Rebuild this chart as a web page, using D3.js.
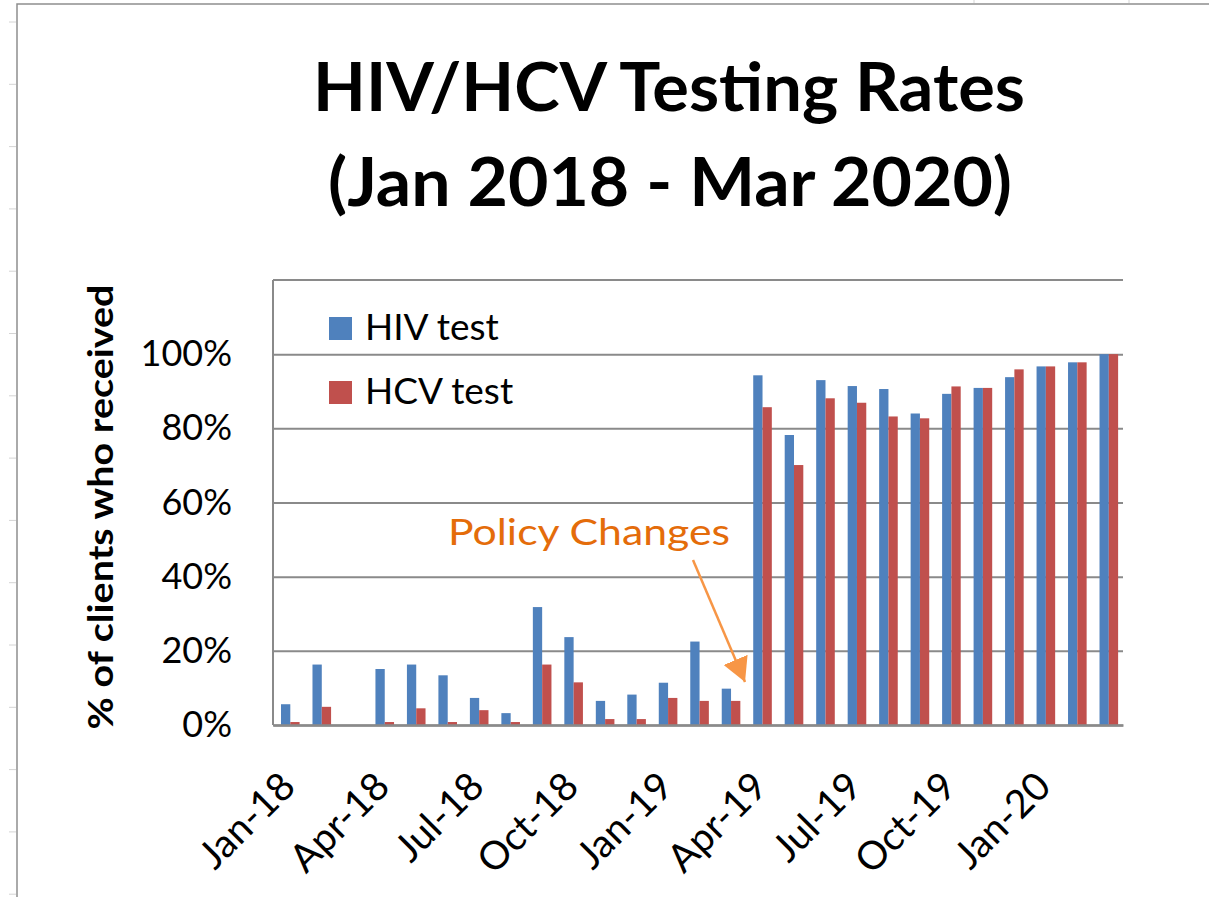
<!DOCTYPE html>
<html lang="en">
<head>
    <meta charset="UTF-8">
    <title>HIV/HCV Testing Rates</title>
    <script src="https://cdn.jsdelivr.net/npm/d3@7/dist/d3.min.js"></script>
    <style>
        body { margin: 0; background: #fff; }
        text { font-family: Lato, "Open Sans", sans-serif; }
    </style>
</head>
<body>
    <div id="chart"></div>
    <script>
        const months = ["Jan-18", "Feb-18", "Mar-18", "Apr-18", "May-18", "Jun-18", "Jul-18", "Aug-18", "Sep-18",
            "Oct-18", "Nov-18", "Dec-18", "Jan-19", "Feb-19", "Mar-19", "Apr-19", "May-19", "Jun-19",
            "Jul-19", "Aug-19", "Sep-19", "Oct-19", "Nov-19", "Dec-19", "Jan-20", "Feb-20", "Mar-20"]
        const hivTest = [5.6, 16.3, 0, 15.1, 16.3, 13.4, 7.3, 3.2, 31.8, 23.7, 6.5, 8.2, 11.4, 22.5, 9.8,
            94.3, 78.2, 93.0, 91.4, 90.6, 84.0, 89.3, 90.9, 93.8, 96.7, 97.8, 100]
        const hcvTest = [0.8, 4.9, 0, 0.8, 4.5, 0.8, 4.0, 0.8, 16.3, 11.5, 1.6, 1.6, 7.3, 6.5, 6.5,
            85.7, 70.1, 88.1, 86.9, 83.2, 82.7, 91.3, 90.9, 95.9, 96.7, 97.8, 100]
        const seriesNames = ["HIV test", "HCV test"]
        const yTicks = [0, 20, 40, 60, 80, 100]
        const xTickLabels = ["Jan-18", "Apr-18", "Jul-18", "Oct-18", "Jan-19", "Apr-19", "Jul-19", "Oct-19", "Jan-20"]

        const width = 1209
        const height = 897
        const plot = {left: 273, right: 1123, top: 280, bottom: 725}
        const colors = {"HIV test": "#4F81BD", "HCV test": "#C0504D"}

        const rows = months.map((m, i) => ({month: m, "HIV test": hivTest[i], "HCV test": hcvTest[i]}))

        const svg = d3.select("#chart").append("svg")
            .attr("width", width)
            .attr("height", height)

        // sheet frame behind the chart
        svg.append("path")
            .attr("d", `M17,${height} V4 H${width}`)
            .attr("fill", "none")
            .attr("stroke", "#8e8e8e")
            .attr("stroke-width", 1.5)
        svg.selectAll(".rowtick").data(d3.range(22, height, 62.3))
            .enter().append("line")
            .attr("x1", 9).attr("x2", 16)
            .attr("y1", d => d).attr("y2", d => d)
            .attr("stroke", "#d4d4d4")
        svg.selectAll(".coltick").data([974, 1129])
            .enter().append("line")
            .attr("x1", d => d).attr("x2", d => d)
            .attr("y1", 0).attr("y2", 3)
            .attr("stroke", "#d4d4d4")

        let x = d3.scaleBand().domain(months).range([plot.left, plot.right])
        let x1 = d3.scaleBand().domain(seriesNames).range([8, 26.6])
        let y = d3.scaleLinear().domain([0, 120]).range([plot.bottom, plot.top])

        // gridlines + tick labels
        const yAxis = svg.append("g")
            .attr("transform", `translate(${plot.left},0)`)
            .call(d3.axisLeft(y).tickValues(yTicks)
                .tickSize(-(plot.right - plot.left))
                .tickPadding(41)
                .tickFormat(d => d + "%"))
        yAxis.select(".domain").remove()
        yAxis.selectAll(".tick line")
            .attr("stroke", "#8a8a8a")
            .attr("stroke-width", 2)
        yAxis.selectAll(".tick text")
            .attr("font-size", 36)
            .attr("fill", "#000")

        // top border of plot area and left axis
        svg.append("line")
            .attr("x1", plot.left).attr("x2", plot.right)
            .attr("y1", y(120)).attr("y2", y(120))
            .attr("stroke", "#8a8a8a").attr("stroke-width", 2)
        svg.append("line")
            .attr("x1", plot.left).attr("x2", plot.left)
            .attr("y1", y(120)).attr("y2", y(0))
            .attr("stroke", "#8a8a8a").attr("stroke-width", 2)

        // bars
        const groups = svg.append("g").selectAll("g")
            .data(rows)
            .enter().append("g")
            .attr("transform", d => `translate(${x(d.month)},0)`)
        groups.selectAll("rect")
            .data(d => seriesNames.map(k => ({key: k, value: d[k]})))
            .enter().append("rect")
            .attr("x", d => x1(d.key))
            .attr("width", x1.bandwidth())
            .attr("y", d => y(d.value))
            .attr("height", d => y(0) - y(d.value))
            .attr("fill", d => colors[d.key])

        // x axis
        const xAxis = svg.append("g")
            .attr("transform", `translate(0,${plot.bottom})`)
            .call(d3.axisBottom(x).tickValues(xTickLabels).tickSize(0).tickPadding(0))
        xAxis.select(".domain")
            .attr("stroke", "#8a8a8a")
            .attr("stroke-width", 2.5)
        xAxis.selectAll(".tick text")
            .attr("font-size", 39)
            .attr("fill", "#000")
            .attr("text-anchor", "end")
            .attr("dy", "0.35em")
            .attr("transform", "translate(-1,54) rotate(-45)")

        // legend
        const legend = svg.append("g").selectAll("g")
            .data(seriesNames)
            .enter().append("g")
            .attr("transform", (d, i) => `translate(329,${317 + i * 64})`)
        legend.append("rect")
            .attr("width", 23).attr("height", 23)
            .attr("fill", d => colors[d])
        legend.append("text")
            .attr("x", 36).attr("y", 23)
            .attr("font-size", 37)
            .text(d => d)

        // title
        svg.append("text")
            .attr("x", 669).attr("y", 111)
            .attr("text-anchor", "middle")
            .attr("font-size", 66).attr("font-weight", "bold")
            .attr("textLength", 712).attr("lengthAdjust", "spacingAndGlyphs")
            .text("HIV/HCV Testing Rates")
        svg.append("text")
            .attr("x", 670).attr("y", 206)
            .attr("text-anchor", "middle")
            .attr("font-size", 66).attr("font-weight", "bold")
            .attr("textLength", 684).attr("lengthAdjust", "spacingAndGlyphs")
            .text("(Jan 2018 - Mar 2020)")

        // y axis title
        svg.append("text")
            .attr("transform", "translate(113,507) rotate(-90)")
            .attr("text-anchor", "middle")
            .attr("font-size", 34).attr("font-weight", "bold")
            .attr("textLength", 445).attr("lengthAdjust", "spacingAndGlyphs")
            .text("% of clients who received")

        // annotation
        svg.append("text")
            .attr("x", 448).attr("y", 545)
            .attr("font-size", 37)
            .attr("fill", "#E46C0A")
            .attr("textLength", 282).attr("lengthAdjust", "spacingAndGlyphs")
            .text("Policy Changes")
        svg.append("defs").append("marker")
            .attr("id", "head")
            .attr("viewBox", "0 0 10 10")
            .attr("refX", 10).attr("refY", 5)
            .attr("markerWidth", 24).attr("markerHeight", 26)
            .attr("markerUnits", "userSpaceOnUse")
            .attr("preserveAspectRatio", "none")
            .attr("orient", "auto")
            .append("path")
            .attr("d", "M0,0 L10,5 L0,10 Z")
            .attr("fill", "#F79646")
        svg.append("line")
            .attr("x1", 693).attr("y1", 560)
            .attr("x2", 745).attr("y2", 682)
            .attr("stroke", "#F79646")
            .attr("stroke-width", 2.5)
            .attr("marker-end", "url(#head)")
    </script>
</body>
</html>
